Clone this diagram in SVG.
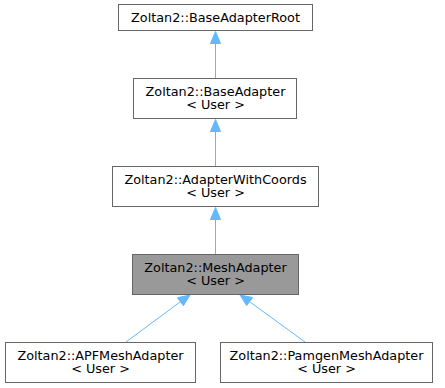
<svg xmlns="http://www.w3.org/2000/svg" width="445" height="388" viewBox="0 0 445 388">
  <defs>
    <style>
      .node rect { fill: #ffffff; stroke: #666666; stroke-width: 1; }
      .node.current rect { fill: #999999; }
      .node text { font-family: "DejaVu Sans", sans-serif; font-size: 12.8px; fill: #000000; text-anchor: middle; }
      .edge { stroke: #63b8ff; stroke-width: 1; fill: none; }
      .head { fill: #63b8ff; stroke: #63b8ff; stroke-width: 1; }
    </style>
  </defs>
  <rect width="445" height="388" fill="#ffffff"/>

  <g id="connectors">
    <!-- BaseAdapter -> BaseAdapterRoot -->
    <path class="edge" d="M215.5,78 L215.5,43"/>
    <polygon class="head" points="215.5,31.5 220.5,43.5 210.5,43.5"/>
    <!-- AdapterWithCoords -> BaseAdapter -->
    <path class="edge" d="M215.5,166 L215.5,131"/>
    <polygon class="head" points="215.5,119.5 220.5,131.5 210.5,131.5"/>
    <!-- MeshAdapter -> AdapterWithCoords -->
    <path class="edge" d="M215.5,254 L215.5,219"/>
    <polygon class="head" points="215.5,207.5 220.5,219.5 210.5,219.5"/>
    <!-- APFMeshAdapter -> MeshAdapter -->
    <path class="edge" d="M126,342 L180,302"/>
    <polygon class="head" points="190,295 183.4,305.7 177.4,297.7"/>
    <!-- PamgenMeshAdapter -> MeshAdapter -->
    <path class="edge" d="M305,342 L250,302"/>
    <polygon class="head" points="240,295 252.6,297.5 246.7,305.6"/>
  </g>

  <g id="node-base-adapter-root" class="node">
    <rect x="118.5" y="4.5" width="194" height="26"/>
    <text x="215.5" y="21.5">Zoltan2::BaseAdapterRoot</text>
  </g>

  <g id="node-base-adapter" class="node">
    <rect x="133.5" y="78.5" width="163" height="40"/>
    <text x="215.5" y="95.5">Zoltan2::BaseAdapter</text>
    <text x="215.5" y="108.5">&lt; User &gt;</text>
  </g>

  <g id="node-adapter-with-coords" class="node">
    <rect x="112.5" y="166.5" width="206" height="40"/>
    <text x="215.5" y="183.5">Zoltan2::AdapterWithCoords</text>
    <text x="215.5" y="196.5">&lt; User &gt;</text>
  </g>

  <g id="node-mesh-adapter" class="node current">
    <rect x="132.5" y="254.5" width="166" height="40"/>
    <text x="215.5" y="271.5">Zoltan2::MeshAdapter</text>
    <text x="215.5" y="284.5">&lt; User &gt;</text>
  </g>

  <g id="node-apf-mesh-adapter" class="node">
    <rect x="5.5" y="342.5" width="190" height="40"/>
    <text x="100.5" y="359.5">Zoltan2::APFMeshAdapter</text>
    <text x="100.5" y="372.5">&lt; User &gt;</text>
  </g>

  <g id="node-pamgen-mesh-adapter" class="node">
    <rect x="220.5" y="342.5" width="212" height="40"/>
    <text x="326.5" y="359.5">Zoltan2::PamgenMeshAdapter</text>
    <text x="326.5" y="372.5">&lt; User &gt;</text>
  </g>
</svg>
